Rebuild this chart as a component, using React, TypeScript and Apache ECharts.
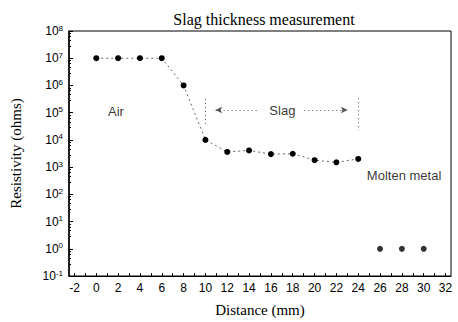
import React, { useEffect, useRef } from "react";
import * as echarts from "echarts";

const distances = [0, 2, 4, 6, 8, 10, 12, 14, 16, 18, 20, 22, 24];
const resistivity = [1e7, 1e7, 1e7, 1e7, 1e6, 1e4, 3.6e3, 4.1e3, 3.0e3, 3.1e3, 1.8e3, 1.5e3, 2.0e3];
const moltenDistances = [26, 28, 30];
const moltenResistivity = [1, 1, 1];
const xTickLabels = [-2, 0, 2, 4, 6, 8, 10, 12, 14, 16, 18, 20, 22, 24, 26, 28, 30, 32];
const xMinorTicks = [-2, -1, 0, 1, 2, 3, 4, 5, 6, 7, 8, 9, 10, 11, 12, 13, 14, 15, 16, 17, 18, 19, 20, 21, 22, 23, 24, 25, 26, 27, 28, 29, 30, 31, 32];
const annotations = [
  { name: "Air", x: 1.8, y: 1.15e5 },
  { name: "Slag", x: 17.05, y: 1.25e5 },
  { name: "Molten metal", x: 28.2, y: 480 },
];
const slagArrowY = 1.25e5;
const slagArrows = [
  [10.9, 14.7],
  [23.05, 19.05],
];
const slagBounds = [
  { x: 10, from: 3.2e5, to: 3.9e4 },
  { x: 24, from: 3.4e5, to: 2.2e4 },
];

export default function App() {
  const ref = useRef<HTMLDivElement>(null);
  useEffect(() => {
    if (!ref.current) return;
    const chart = echarts.init(ref.current, null, { renderer: "svg" });
    const sans = "'Liberation Sans', Arial, sans-serif";
    const serif = "'Liberation Serif', 'Times New Roman', serif";
    chart.setOption({
      animation: false,
      backgroundColor: "#fff",
      title: {
        text: "Slag thickness measurement",
        left: 259,
        textAlign: "center",
        top: 6,
        textStyle: { fontFamily: serif, fontSize: 16, fontWeight: "normal", color: "#000" },
      },
      grid: {
        left: 66,
        right: 7,
        top: 31,
        bottom: 45,
        show: true,
        borderColor: "#000",
        borderWidth: 1,
      },
      xAxis: {
        type: "value",
        min: -2.5,
        max: 32.5,
        name: "Distance (mm)",
        nameLocation: "middle",
        nameGap: 26,
        nameTextStyle: { fontFamily: serif, fontSize: 15, color: "#000" },
        axisLine: { show: true, onZero: false, lineStyle: { color: "#000", width: 1 } },
        axisTick: { show: true, inside: true, length: 3, customValues: xMinorTicks, lineStyle: { color: "#000" } },
        axisLabel: {
          customValues: xTickLabels,
          fontFamily: sans,
          fontSize: 12,
          color: "#000",
          margin: 6,
        },
        splitLine: { show: false },
      },
      yAxis: {
        type: "log",
        logBase: 10,
        min: 0.1,
        max: 1e8,
        name: "Resistivity (ohms)",
        nameLocation: "middle",
        nameGap: 46,
        nameTextStyle: { fontFamily: serif, fontSize: 15, color: "#000" },
        axisLine: { show: true, onZero: false, lineStyle: { color: "#000", width: 1.5 } },
        axisTick: { show: true, inside: true, length: 4, lineStyle: { color: "#000" } },
        minorTick: { show: true, splitNumber: 5, length: 2, lineStyle: { color: "#000" } },
        axisLabel: {
          margin: 6,
          formatter: (v: number) => `{b|10}{s|${Math.round(Math.log10(v))}}`,
          rich: {
            b: { fontFamily: sans, fontSize: 12, color: "#000" },
            s: { fontFamily: sans, fontSize: 8, color: "#000", verticalAlign: "top", padding: [0, 0, 6, 0] },
          },
        },
        splitLine: { show: false },
      },
      series: [
        {
          type: "line",
          data: distances.map((d, i) => [d, resistivity[i]]),
          symbol: "circle",
          symbolSize: 6,
          itemStyle: { color: "#000" },
          lineStyle: { color: "#666", width: 1, type: [2, 3] },
          markLine: {
            silent: true,
            symbol: ["none", "none"],
            label: { show: false },
            lineStyle: { color: "#555", width: 1, type: [1, 3] },
            data: [
              ...slagArrows.map((a) => [
                { coord: [a[1], slagArrowY], symbol: "none" },
                { coord: [a[0], slagArrowY], symbol: "arrow", symbolSize: [5, 7] },
              ]),
              ...slagBounds.map((b) => [
                { coord: [b.x, b.from] },
                { coord: [b.x, b.to] },
              ]),
            ],
          },
        },
        {
          type: "scatter",
          data: moltenDistances.map((d, i) => [d, moltenResistivity[i]]),
          symbol: "circle",
          symbolSize: 6,
          itemStyle: { color: "#000" },
        },
        {
          type: "scatter",
          data: annotations.map((a) => ({ name: a.name, value: [a.x, a.y] })),
          symbolSize: 0,
          silent: true,
          label: {
            show: true,
            position: "inside",
            formatter: "{b}",
            fontFamily: sans,
            fontSize: 13,
            color: "#000",
          },
        },
      ],
    });
    return () => chart.dispose();
  }, []);
  return <div ref={ref} style={{ width: 458, height: 322, position: "absolute", left: 0, top: 0 }} />;
}
